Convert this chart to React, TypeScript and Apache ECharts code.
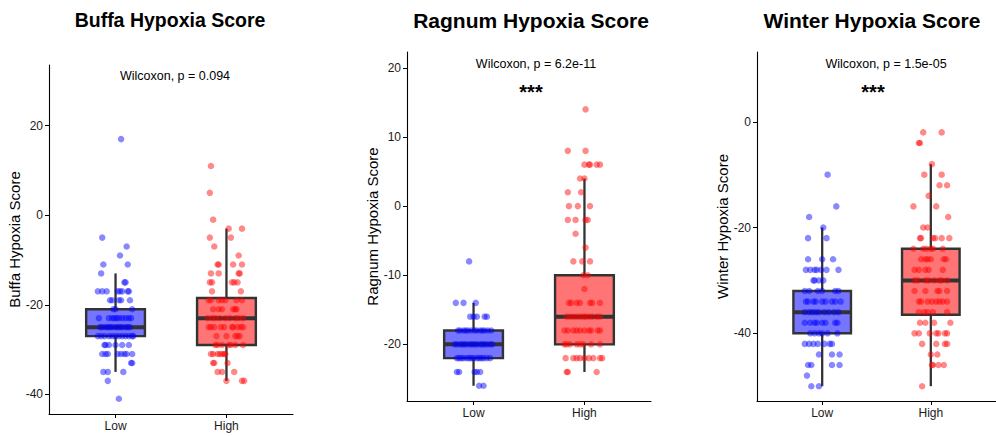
import React, { useEffect, useRef } from 'react';
import * as echarts from 'echarts';

type Row = [number, number[]]; // [value, jitter offsets in category units]

const FONT = '"Liberation Sans", Arial, Helvetica, sans-serif';

const categories = ['Low', 'High'];
const panelTitles = ['Buffa Hypoxia Score', 'Ragnum Hypoxia Score', 'Winter Hypoxia Score'];
const pLabels = ['Wilcoxon, p = 0.094', 'Wilcoxon, p = 6.2e-11', 'Wilcoxon, p = 1.5e-05'];
const sigLabels = ['', '***', '***'];
const yTicks = [[-40, -20, 0, 20], [-20, -10, 0, 10, 20], [-40, -20, 0]];
const yMins = [-44.4, -28.2, -52.8];
const yMaxs = [33.55, 22.3, 13.2];

// box stats: [x, lowerWhisker, Q1, median, Q3, upperWhisker]
const buffaBoxes = [[1, -35, -27, -25, -21, -13], [2, -37, -29, -23, -18.5, -3]];
const ragnumBoxes = [[1, -26, -22, -20, -18, -14], [2, -24, -20, -16, -10, 4]];
const winterBoxes = [[1, -50, -40, -36, -32, -20], [2, -50, -36.5, -30, -24, -8]];

const buffaLow: Row[] = [
  [17, [0.05]], [-5, [-0.12]], [-7, [0.1]], [-9, [0.04]], [-11, [-0.11, 0.11]], [-13, [-0.13]], [-15, [0.08, 0.09]],
  [-17, [-0.16, -0.12, -0.08, 0.02, 0.04, 0.06, 0.11, 0.12]],
  [-19, [-0.05, -0.03, 0.03, 0.05, 0.13]],
  [-21, [-0.02, 0, 0.15]],
  [-23, [-0.15, -0.06, -0.03, -0.01, 0.01, 0.03, 0.06, 0.09, 0.12, 0.14]],
  [-25, [-0.14, -0.12, -0.09, -0.07, -0.05, -0.03, 0, 0.02, 0.04, 0.06, 0.09, 0.11, 0.13]],
  [-27, [-0.16, -0.13, -0.1, -0.06, -0.03, 0, 0.03, 0.06, 0.09, 0.12, 0.15, 0.16]],
  [-29, [-0.1, -0.09, -0.06, 0, 0.06, 0.12]],
  [-31, [-0.12, -0.09, -0.07, 0.02, 0.05, 0.08, 0.1, 0.15]],
  [-33, [0.14, 0.15]], [-35, [-0.11, -0.07, 0.07]], [-37, [-0.07]], [-41, [0.03]],
];
const buffaHigh: Row[] = [
  [11, [-0.14]], [5, [-0.15]], [-1, [-0.12]], [-3, [0.02, 0.14]], [-5, [-0.15, 0.04]], [-7, [-0.11]], [-9, [0.11]],
  [-11, [-0.08, -0.07, 0.06, 0.14]],
  [-13, [-0.14, -0.07, 0.11, 0.12]],
  [-15, [-0.15, -0.13, 0.05, 0.07, 0.1]],
  [-17, [-0.13, 0.13]],
  [-19, [-0.16, -0.14, -0.07, -0.04, -0.01, 0.09, 0.14]],
  [-21, [-0.12, -0.07, -0.04, 0.06, 0.08, 0.09]],
  [-23, [-0.17, -0.13, -0.1, -0.06, -0.01, 0.03, 0.08, 0.11, 0.15]],
  [-25, [-0.16, -0.14, -0.11, -0.05, -0.02, 0.05, 0.06, 0.1, 0.13, 0.15]],
  [-27, [-0.09, 0, 0.08, 0.1, 0.12]],
  [-29, [-0.1, -0.08, -0.04, 0.02, 0.04, 0.08, 0.15]],
  [-31, [-0.14, -0.12, -0.08, -0.06, -0.04, -0.02, -0.01]],
  [-33, [-0.12, -0.11, 0.01]],
  [-35, [-0.08, -0.04, 0.07]],
  [-37, [0, 0.14, 0.16]],
];
const ragnumLow: Row[] = [
  [-8, [-0.04]],
  [-14, [-0.16, -0.09, 0.02]],
  [-16, [-0.03, 0, 0.03, 0.1, 0.12]],
  [-18, [-0.14, -0.12, -0.09, -0.07, -0.05, -0.02, 0.01, 0.03, 0.06, 0.08, 0.1, 0.13, 0.16]],
  [-20, [-0.17, -0.15, -0.12, -0.1, -0.08, -0.06, -0.03, -0.01, 0.01, 0.03, 0.06, 0.08, 0.1, 0.12, 0.15, 0.17]],
  [-22, [-0.15, -0.13, -0.11, -0.09, -0.06, -0.04, -0.02, 0, 0.03, 0.05, 0.07, 0.09, 0.12, 0.15]],
  [-24, [-0.15, -0.13, 0.01, 0.03, 0.06]],
  [-26, [0.05, 0.09]],
];
const ragnumHigh: Row[] = [
  [14, [0.01]], [8, [-0.15, 0.01]], [6, [0, 0.04, 0.05, 0.11, 0.14]], [4, [-0.04, 0]], [2, [-0.15, -0.03]],
  [0, [-0.14, -0.06, 0.05]], [-2, [-0.15, -0.08, 0.01, 0.03]], [-4, [-0.08]], [-6, [0.01]],
  [-8, [-0.1, -0.02, 0.05]], [-10, [-0.01, 0.03]], [-12, [0]],
  [-14, [-0.14, -0.12, -0.07, -0.04, 0.05, 0.07, 0.14]],
  [-16, [-0.16, -0.13, -0.1, -0.07, -0.04, -0.01, 0.01, 0.04, 0.07, 0.11, 0.14]],
  [-18, [-0.18, -0.15, -0.1, -0.07, -0.04, 0, 0.04, 0.06, 0.12, 0.14]],
  [-20, [-0.18, -0.16, -0.13, -0.07, -0.04, -0.01, 0.06, 0.14]],
  [-22, [-0.17, -0.1, -0.07, -0.04, 0, 0.04, 0.08, 0.14, 0.16]],
  [-24, [-0.16, -0.15, 0.11]],
];
const winterLow: Row[] = [
  [-10, [0.05]], [-16, [0.13]], [-18, [-0.12]], [-20, [0.01]], [-22, [-0.13, 0.04]],
  [-26, [-0.13, 0, 0.1]],
  [-28, [-0.15, -0.11, -0.07, -0.05, -0.01, 0.04, 0.15]],
  [-30, [-0.08, -0.07, -0.03, 0.01]],
  [-32, [-0.16, -0.12, -0.04, 0, 0.12, 0.15]],
  [-34, [-0.15, -0.13, -0.08, -0.06, 0, 0.03, 0.09, 0.12, 0.17]],
  [-36, [-0.16, -0.12, -0.09, -0.06, -0.03, 0.02, 0.06, 0.11, 0.15]],
  [-38, [-0.16, -0.11, -0.07, -0.05, 0, 0.03, 0.12, 0.14]],
  [-40, [-0.11, -0.07, -0.03, 0, 0.05, 0.14]],
  [-42, [-0.16, -0.12, -0.08, -0.04, 0.02, 0.07, 0.09]],
  [-44, [-0.03, 0.09, 0.16]],
  [-46, [-0.13, -0.1, 0.09, 0.16]],
  [-48, [-0.14]],
  [-50, [-0.1, -0.03]],
];
const winterHigh: Row[] = [
  [-2, [-0.07, 0.1]], [-4, [-0.11, -0.1]], [-8, [0.01]], [-10, [-0.06, 0.1]], [-12, [0.08, 0.15]],
  [-14, [-0.02]], [-16, [-0.16, 0.05]], [-18, [0.16]], [-20, [-0.07, -0.03]],
  [-22, [-0.1, -0.09, 0.02, 0.04, 0.1, 0.17]],
  [-24, [-0.16, -0.07, -0.04, 0, 0.02, 0.11]],
  [-26, [-0.09, -0.05, -0.03, 0, 0.12, 0.14]],
  [-28, [-0.15, -0.11, -0.05, -0.02, 0.11]],
  [-30, [-0.15, -0.12, -0.05, -0.02, 0.03, 0.08, 0.1, 0.15]],
  [-32, [-0.15, -0.05, 0.06, 0.08, 0.15]],
  [-34, [-0.11, -0.09, -0.03, 0.01, 0.05, 0.08, 0.11, 0.15]],
  [-36, [-0.11, -0.06, -0.03, 0.02, 0.15]],
  [-38, [-0.1, -0.05, 0.03, 0.18]],
  [-40, [-0.15, -0.11, -0.01, 0.05, 0.07, 0.13, 0.15]],
  [-42, [-0.08, 0.05, 0.13, 0.15]],
  [-44, [0, 0.06]],
  [-46, [0.01, 0.02, 0.07, 0.12]],
  [-50, [-0.08]],
];

const boxesByPanel = [buffaBoxes, ragnumBoxes, winterBoxes];
const lowByPanel = [buffaLow, ragnumLow, winterLow];
const highByPanel = [buffaHigh, ragnumHigh, winterHigh];

const grids = [
  { left: 49, top: 65, width: 244, height: 349 },
  { left: 407, top: 52, width: 244, height: 349 },
  { left: 757, top: 52, width: 243, height: 349 },
];
const titleX = [170, 531, 872];
const titleSize = [19.5, 21, 21];
const pLabelPos = [[175, 76], [536, 64], [886, 64]];
const sigPos = [[0, 0], [531, 92], [873, 92]];

const BOX_FILL = ['rgba(0,0,255,0.54)', 'rgba(255,0,0,0.54)'];
const POINT_COLOR = ['rgba(0,0,255,0.58)', 'rgba(255,0,0,0.58)'];
const DARK = '#333333';

function toPoints(rows: Row[], center: number): number[][] {
  const out: number[][] = [];
  rows.forEach(([v, js]) => js.forEach((j) => out.push([center + j, v])));
  return out;
}

export default function App() {
  const ref = useRef<HTMLDivElement>(null);
  useEffect(() => {
    if (!ref.current) return;
    const chart = echarts.init(ref.current, undefined, { renderer: 'svg' });
    const xAxis: any[] = [];
    const yAxis: any[] = [];
    const series: any[] = [];
    const graphic: any[] = [];
    grids.forEach((g, i) => {
      xAxis.push({
        type: 'value', gridIndex: i, min: 0.4, max: 2.6,
        axisLine: { show: true, onZero: false, lineStyle: { color: '#000', width: 1.1 } },
        axisTick: { show: true, length: 4, customValues: [1, 2], lineStyle: { color: '#000', width: 1 } },
        axisLabel: {
          show: true, customValues: [1, 2], margin: 6, fontSize: 12, color: '#1a1a1a', fontFamily: FONT,
          formatter: (v: number) => categories[Math.round(v) - 1] || '',
        },
        splitLine: { show: false },
      });
      yAxis.push({
        type: 'value', gridIndex: i, min: yMins[i], max: yMaxs[i],
        name: panelTitles[i], nameLocation: 'middle', nameGap: 22,
        nameTextStyle: { fontSize: 15, color: '#000', fontFamily: FONT },
        axisLine: { show: true, onZero: false, lineStyle: { color: '#000', width: 1.1 } },
        axisTick: { show: true, length: 4, customValues: yTicks[i], lineStyle: { color: '#000', width: 1 } },
        axisLabel: { show: true, customValues: yTicks[i], margin: 6, fontSize: 12, color: '#1a1a1a', fontFamily: FONT },
        splitLine: { show: false },
      });
      series.push({
        type: 'custom', xAxisIndex: i, yAxisIndex: i, z: 2,
        data: boxesByPanel[i],
        encode: { x: 0, y: [1, 2, 3, 4, 5] },
        renderItem: (params: any, api: any) => {
          const x = api.value(0);
          const lo = api.value(1), q1 = api.value(2), med = api.value(3), q3 = api.value(4), hi = api.value(5);
          const hw = 0.265;
          const top = api.coord([x, hi]);
          const q3p = api.coord([x, q3]);
          const q1p = api.coord([x, q1]);
          const bot = api.coord([x, lo]);
          const tl = api.coord([x - hw, q3]);
          const br = api.coord([x + hw, q1]);
          const ml = api.coord([x - hw, med]);
          const mr = api.coord([x + hw, med]);
          const fill = BOX_FILL[params.dataIndex];
          return {
            type: 'group',
            children: [
              { type: 'line', shape: { x1: top[0], y1: top[1], x2: q3p[0], y2: q3p[1] }, style: { stroke: DARK, lineWidth: 2.3 } },
              { type: 'line', shape: { x1: q1p[0], y1: q1p[1], x2: bot[0], y2: bot[1] }, style: { stroke: DARK, lineWidth: 2.3 } },
              { type: 'rect', shape: { x: tl[0], y: tl[1], width: br[0] - tl[0], height: br[1] - tl[1] }, style: { fill, stroke: DARK, lineWidth: 2.4 } },
              { type: 'line', shape: { x1: ml[0], y1: ml[1], x2: mr[0], y2: mr[1] }, style: { stroke: DARK, lineWidth: 4 } },
            ],
          };
        },
      });
      [lowByPanel[i], highByPanel[i]].forEach((rows, k) => {
        series.push({
          type: 'scatter', xAxisIndex: i, yAxisIndex: i, z: 3,
          symbol: 'circle', symbolSize: 6.5,
          itemStyle: { color: POINT_COLOR[k], borderWidth: 0 },
          data: toPoints(rows, k + 1),
        });
      });
      graphic.push({
        type: 'text', x: titleX[i], y: 20,
        style: { text: panelTitles[i], textAlign: 'center', textVerticalAlign: 'middle', font: `bold ${titleSize[i]}px ${FONT}`, fill: '#000' },
      });
      graphic.push({
        type: 'text', x: pLabelPos[i][0], y: pLabelPos[i][1],
        style: { text: pLabels[i], textAlign: 'center', textVerticalAlign: 'middle', font: `12.5px ${FONT}`, fill: '#000' },
      });
      if (sigLabels[i]) {
        graphic.push({
          type: 'text', x: sigPos[i][0], y: sigPos[i][1],
          style: { text: sigLabels[i], textAlign: 'center', textVerticalAlign: 'middle', font: `bold 20px ${FONT}`, fill: '#000' },
        });
      }
    });
    chart.setOption({
      animation: false,
      backgroundColor: '#ffffff',
      textStyle: { fontFamily: FONT },
      grid: grids,
      xAxis,
      yAxis,
      series,
      graphic,
    });
    return () => chart.dispose();
  }, []);
  return <div ref={ref} style={{ position: 'absolute', left: 0, top: 0, width: 996, height: 436 }} />;
}
